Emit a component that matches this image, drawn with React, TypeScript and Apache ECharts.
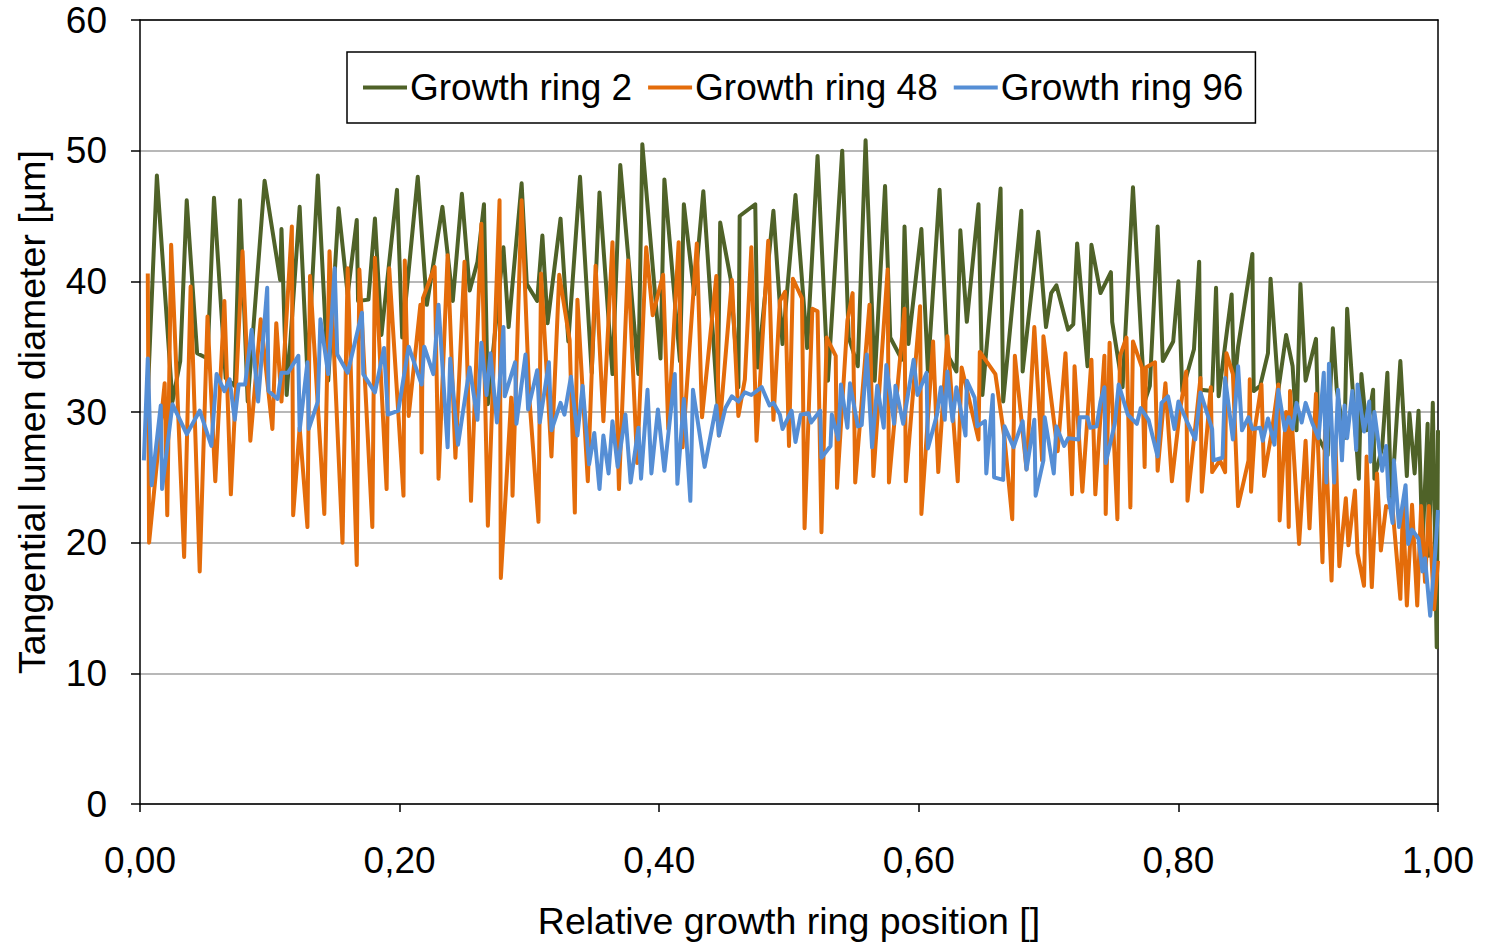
import React, { useEffect, useRef } from "react";
import * as echarts from "echarts";

const xTicks = [0, 0.2, 0.4, 0.6, 0.8, 1.0];
const seriesNames = ["Growth ring 2", "Growth ring 48", "Growth ring 96"];

const greenX = [0.005,0.013,0.025,0.031,0.036,0.044,0.052,0.057,0.066,0.073,0.077,0.083,0.096,0.108,0.109,0.113,0.123,0.129,0.137,0.145,0.153,0.160,0.167,0.168,0.176,0.181,0.186,0.198,0.202,0.214,0.221,0.233,0.241,0.248,0.254,0.260,0.265,0.268,0.280,0.284,0.294,0.298,0.306,0.310,0.314,0.324,0.330,0.339,0.348,0.354,0.364,0.370,0.384,0.387,0.401,0.404,0.416,0.419,0.427,0.434,0.445,0.447,0.455,0.461,0.462,0.474,0.476,0.488,0.495,0.505,0.514,0.522,0.530,0.541,0.546,0.553,0.559,0.566,0.574,0.578,0.587,0.589,0.592,0.602,0.607,0.616,0.622,0.629,0.632,0.637,0.646,0.649,0.663,0.665,0.679,0.680,0.692,0.698,0.702,0.706,0.715,0.719,0.722,0.730,0.733,0.740,0.748,0.749,0.757,0.765,0.774,0.778,0.784,0.788,0.796,0.800,0.803,0.812,0.816,0.817,0.826,0.829,0.831,0.841,0.843,0.846,0.857,0.858,0.863,0.869,0.871,0.877,0.883,0.888,0.891,0.894,0.898,0.906,0.908,0.915,0.919,0.922,0.928,0.930,0.939,0.941,0.945,0.950,0.951,0.957,0.961,0.964,0.971,0.976,0.978,0.982,0.985,0.988,0.992,0.993,0.996,0.999,1.000];
const greenY = [29,48.1,30.8,33.9,46.2,34.5,34.1,46.4,32.6,32.0,46.2,30.8,47.7,40.1,44.0,31.3,45.7,32.9,48.1,32.4,45.6,39.0,44.7,38.5,38.6,44.8,35.9,47.0,35.7,48.0,38.2,45.7,38.5,46.7,39.3,41.5,45.9,30.6,42.6,36.5,47.5,39.8,38.5,43.5,36.8,44.8,35.4,48.0,33.0,46.8,32.9,48.9,32.9,50.5,34.1,47.8,33.9,45.9,39.0,46.9,30.6,44.5,40.2,31.9,45.0,45.9,33.4,45.4,35.2,46.6,34.9,49.6,32.4,50.0,35.7,33.5,50.8,32.4,47.3,35.7,34.0,44.2,35.2,44.0,33.1,47.0,34.4,33.1,43.9,36.9,45.9,31.3,47.1,30.8,45.4,33.1,43.8,36.5,39.1,39.7,36.3,36.7,42.9,33.5,42.8,39.1,40.7,36.9,31.9,47.2,30.8,32.0,44.2,33.9,35.4,40.0,31.6,34.8,41.5,31.7,31.6,39.5,31.2,39.0,31.9,35.0,42.1,31.6,32.0,34.5,40.2,31.7,35.9,33.5,28.6,39.8,32.4,35.6,28.0,26.7,36.4,31.7,28.0,37.9,24.9,32.9,28.6,31.7,24.9,27.3,33.0,22.8,33.9,25.1,29.9,25.3,30.1,19.6,29.1,19.0,30.7,12.0,28.6];

const orangeX = [0.006,0.007,0.019,0.021,0.024,0.034,0.039,0.046,0.052,0.058,0.065,0.070,0.079,0.085,0.093,0.102,0.105,0.109,0.117,0.118,0.123,0.129,0.131,0.142,0.146,0.156,0.160,0.167,0.169,0.179,0.181,0.190,0.192,0.203,0.204,0.207,0.216,0.217,0.218,0.227,0.230,0.237,0.243,0.250,0.255,0.263,0.268,0.277,0.278,0.286,0.287,0.294,0.300,0.307,0.309,0.317,0.323,0.331,0.335,0.337,0.345,0.351,0.357,0.364,0.369,0.376,0.383,0.390,0.395,0.403,0.407,0.415,0.418,0.429,0.433,0.444,0.446,0.456,0.461,0.466,0.471,0.475,0.484,0.488,0.493,0.497,0.500,0.503,0.510,0.512,0.518,0.522,0.525,0.529,0.536,0.537,0.545,0.549,0.551,0.562,0.565,0.576,0.577,0.589,0.590,0.601,0.602,0.611,0.615,0.622,0.630,0.633,0.646,0.647,0.659,0.666,0.672,0.674,0.683,0.689,0.695,0.696,0.707,0.713,0.718,0.720,0.726,0.733,0.736,0.743,0.744,0.747,0.753,0.755,0.760,0.763,0.765,0.772,0.774,0.775,0.782,0.784,0.790,0.795,0.801,0.806,0.807,0.817,0.818,0.825,0.826,0.832,0.836,0.837,0.842,0.846,0.854,0.855,0.856,0.859,0.864,0.866,0.872,0.877,0.878,0.883,0.885,0.886,0.893,0.898,0.901,0.906,0.911,0.913,0.918,0.921,0.924,0.929,0.931,0.936,0.938,0.943,0.945,0.949,0.953,0.956,0.960,0.965,0.971,0.973,0.976,0.980,0.984,0.987,0.990,0.993,0.997,1.000];
const orangeY = [40.6,20.0,32.2,22.1,42.8,18.9,39.6,17.8,37.3,24.7,38.5,23.7,42.3,27.8,37.1,28.7,36.8,30.8,44.2,22.1,28.8,21.2,40.4,22.2,42.3,20.0,41.0,18.3,40.9,21.2,41.8,24.1,41.0,23.6,41.6,29.7,38.2,26.9,38.7,41.1,24.9,42.0,26.5,41.5,23.2,44.4,21.3,46.2,17.3,31.1,23.6,46.2,31.0,21.6,40.6,26.6,40.5,35.5,22.3,38.6,24.7,41.2,29.3,43.0,24.1,41.6,26.1,42.6,37.4,40.5,28.7,43.0,27.3,42.9,29.6,40.4,28.2,40.1,29.7,32.5,42.6,27.8,43.1,29.4,38.5,39.2,27.4,40.2,38.7,21.1,37.9,37.7,20.8,35.7,34.3,24.2,37.0,39.1,24.6,38.2,25.1,40.9,24.6,37.9,24.7,38.1,22.2,35.4,25.4,35.8,24.7,33.4,27.9,34.6,32.9,28.0,21.8,34.3,25.6,36.5,26.3,35.8,27.0,34.5,23.7,33.5,23.9,34.0,23.7,34.3,22.2,35.3,21.8,34.3,35.7,22.7,35.4,33.4,25.8,33.4,33.8,25.5,32.2,24.7,30.0,33.1,23.2,32.6,23.9,31.9,25.4,26.3,25.4,34.5,32.9,22.8,26.3,32.5,23.9,28.8,32.1,25.1,28.5,32.1,21.7,30.0,21.2,31.6,19.9,27.8,21.1,31.4,18.5,28.6,17.1,27.8,18.2,23.4,19.8,24.0,19.2,16.7,26.6,16.6,25.3,19.4,22.8,22.6,15.7,23.0,15.2,22.9,15.2,22.8,17.0,22.8,14.9,18.6];

const blueX = [0.003,0.006,0.009,0.016,0.017,0.025,0.036,0.046,0.055,0.059,0.065,0.069,0.073,0.076,0.081,0.086,0.091,0.098,0.099,0.106,0.109,0.114,0.122,0.123,0.129,0.130,0.137,0.139,0.145,0.150,0.152,0.160,0.171,0.172,0.181,0.188,0.191,0.199,0.207,0.217,0.219,0.226,0.230,0.237,0.239,0.245,0.254,0.260,0.263,0.267,0.270,0.275,0.280,0.281,0.289,0.290,0.297,0.299,0.306,0.308,0.315,0.317,0.324,0.327,0.332,0.337,0.341,0.346,0.350,0.354,0.357,0.361,0.364,0.368,0.374,0.378,0.384,0.386,0.391,0.394,0.399,0.404,0.412,0.414,0.419,0.424,0.426,0.435,0.444,0.446,0.451,0.456,0.461,0.466,0.471,0.479,0.485,0.488,0.493,0.495,0.502,0.505,0.509,0.515,0.517,0.524,0.525,0.532,0.533,0.538,0.540,0.545,0.547,0.553,0.556,0.560,0.564,0.568,0.573,0.575,0.581,0.582,0.588,0.596,0.599,0.606,0.607,0.614,0.617,0.620,0.622,0.626,0.629,0.636,0.637,0.643,0.645,0.651,0.652,0.657,0.658,0.665,0.666,0.673,0.680,0.683,0.689,0.690,0.696,0.697,0.704,0.706,0.712,0.715,0.723,0.724,0.730,0.732,0.737,0.740,0.743,0.744,0.751,0.754,0.761,0.768,0.771,0.777,0.784,0.787,0.792,0.797,0.800,0.806,0.813,0.817,0.826,0.827,0.834,0.836,0.842,0.846,0.849,0.854,0.857,0.863,0.865,0.869,0.874,0.877,0.882,0.885,0.888,0.891,0.895,0.898,0.903,0.908,0.912,0.914,0.916,0.920,0.923,0.926,0.928,0.930,0.934,0.937,0.938,0.943,0.947,0.948,0.951,0.957,0.960,0.962,0.965,0.966,0.970,0.975,0.977,0.980,0.985,0.988,0.990,0.994,0.998,1.000];
const blueY = [26.3,34.1,24.4,30.5,24.1,30.6,28.3,30.1,27.4,32.9,31.6,32.5,29.4,32.1,32.1,36.3,30.8,39.5,31.6,31.0,33.0,33.0,34.3,28.6,33.8,28.7,30.8,37.1,32.9,41.0,34.4,33.0,37.6,32.9,31.5,34.9,29.8,30.1,35.0,32.1,35.0,32.9,38.2,27.3,34.1,27.5,33.4,29.4,35.3,31.3,34.5,29.2,36.5,31.2,33.8,29.1,34.4,30.2,33.2,29.2,33.8,28.6,30.7,29.8,32.7,28.2,32.0,26.0,28.4,24.1,28.2,25.3,29.3,25.8,29.8,24.6,28.8,24.9,31.7,25.3,30.2,25.5,32.9,24.5,31.0,23.2,31.7,25.8,30.5,28.2,30.3,31.2,30.8,31.5,31.3,31.9,30.5,30.7,29.8,28.7,30.1,27.7,29.8,29.9,29.2,30.1,26.5,27.4,29.8,27.9,32.1,28.8,32.2,28.9,29.0,34.4,27.3,32.0,28.8,33.6,29.1,32.0,29.1,34.0,31.3,33.0,27.2,29.8,31.9,29.4,33.1,29.3,31.9,28.2,32.4,31.1,28.9,29.3,25.3,31.3,25.0,24.8,28.9,27.3,29.3,25.6,29.4,23.6,26.3,29.6,25.3,28.9,27.4,28.0,27.9,29.6,29.6,28.8,28.9,30.8,31.9,26.1,29.1,32.1,29.8,29.1,30.3,29.4,26.6,30.7,31.2,28.7,30.8,29.4,27.9,31.5,28.7,26.3,26.5,32.6,27.9,33.5,28.6,29.6,28.7,28.8,27.8,29.5,27.5,31.7,28.6,29.6,28.7,30.7,29.2,30.7,29.2,28.0,33.0,24.6,33.7,24.6,31.7,26.3,30.5,28.0,31.6,27.1,32.1,28.5,30.8,26.2,30.0,25.5,27.4,23.5,21.5,26.3,21.2,24.4,19.9,21.0,20.3,17.8,18.8,14.4,19.4,22.5];

const colors = ["#4f6228", "#e46c0a", "#558ed5"];

function zip(xs: number[], ys: number[]) {
  return xs.map((x, i) => [x, ys[i]]);
}

export default function App() {
  const ref = useRef<HTMLDivElement>(null);
  useEffect(() => {
    if (!ref.current) return;
    const chart = echarts.init(ref.current, undefined, { renderer: "svg" });
    const font = "'Liberation Sans', Arial, sans-serif";
    const seriesData = [zip(greenX, greenY), zip(orangeX, orangeY), zip(blueX, blueY)];
    chart.setOption({
      animation: false,
      backgroundColor: "#ffffff",
      textStyle: { fontFamily: font, color: "#000" },
      grid: { left: 140, right: 47, top: 20, bottom: 135, containLabel: false },
      legend: {
        left: 347,
        top: 52,
        orient: "horizontal",
        data: seriesNames,
        icon: "rect",
        itemWidth: 44,
        itemHeight: 4,
        itemGap: 16,
        padding: [17, 12, 17, 16],
        borderColor: "#000",
        borderWidth: 1.5,
        backgroundColor: "#fff",
        textStyle: { fontFamily: font, fontSize: 37, color: "#000", padding: [0, 0, 0, -2] },
      },
      xAxis: [
        {
          type: "value",
          min: xTicks[0],
          max: xTicks[xTicks.length - 1],
          interval: 0.2,
          name: "Relative growth ring position []",
          nameLocation: "middle",
          nameGap: 98,
          nameTextStyle: { fontFamily: font, fontSize: 37.5, color: "#000" },
          axisLine: { show: true, lineStyle: { color: "#000", width: 1.5 } },
          axisTick: { show: true, inside: false, length: 8, lineStyle: { color: "#000", width: 1.5 } },
          axisLabel: {
            fontFamily: font,
            fontSize: 37,
            color: "#000",
            margin: 38,
            formatter: (v: number) => v.toFixed(2).replace(".", ","),
          },
          splitLine: { show: false },
        },
        {
          type: "value",
          position: "top",
          min: 0,
          max: 1,
          axisLine: { show: true, onZero: false, lineStyle: { color: "#000", width: 1.5 } },
          axisTick: { show: false },
          axisLabel: { show: false },
          splitLine: { show: false },
        },
      ],
      yAxis: [
        {
          type: "value",
          min: 0,
          max: 60,
          interval: 10,
          name: "Tangential lumen diameter [µm]",
          nameLocation: "middle",
          nameGap: 89,
          nameTextStyle: { fontFamily: font, fontSize: 37.5, color: "#000" },
          axisLine: { show: true, lineStyle: { color: "#000", width: 1.5 } },
          axisTick: { show: true, inside: false, length: 9, lineStyle: { color: "#000", width: 1.5 } },
          axisLabel: { fontFamily: font, fontSize: 37, color: "#000", margin: 33 },
          splitLine: { show: true, lineStyle: { color: "#a0a0a0", width: 1.5 } },
        },
        {
          type: "value",
          position: "right",
          min: 0,
          max: 60,
          axisLine: { show: true, onZero: false, lineStyle: { color: "#000", width: 1.5 } },
          axisTick: { show: false },
          axisLabel: { show: false },
          splitLine: { show: false },
        },
      ],
      series: seriesNames.map((name, i) => ({
        name,
        type: "line",
        xAxisIndex: 0,
        yAxisIndex: 0,
        data: seriesData[i],
        showSymbol: false,
        symbol: "none",
        color: colors[i],
        lineStyle: { color: colors[i], width: 4, join: "round" },
        z: 2 + i,
      })),
    });
    return () => chart.dispose();
  }, []);
  return (
    <div
      ref={ref}
      style={{ position: "absolute", left: 0, top: 0, width: 1485, height: 945 }}
    />
  );
}
